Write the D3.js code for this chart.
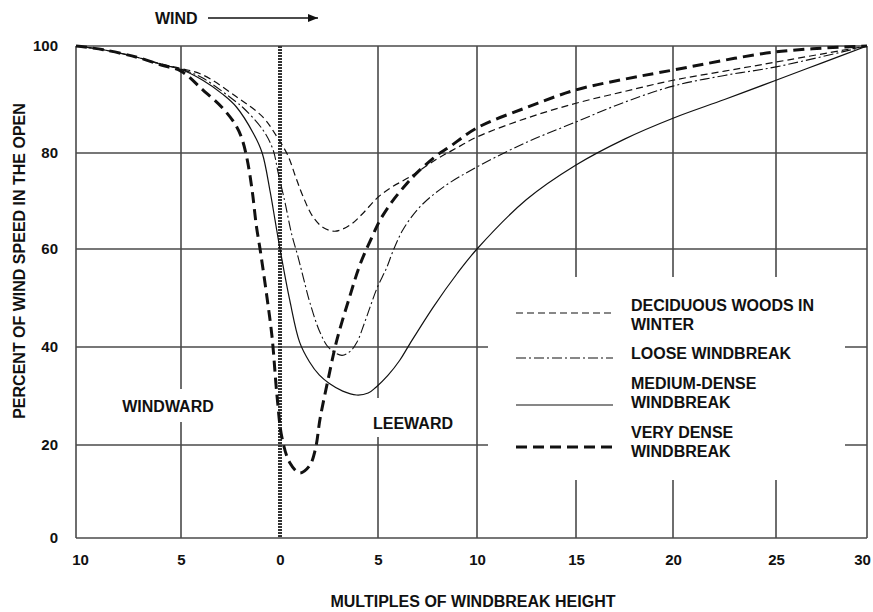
<!DOCTYPE html>
<html>
<head>
<meta charset="utf-8">
<script src="https://cdn.jsdelivr.net/npm/d3@7"></script>
<style>
  body { margin: 0; background: #fff; }
  text { font-family: "Liberation Sans", Arial, sans-serif; font-weight: bold; fill: #111; }
</style>
</head>
<body>
<script>
// tick values
var xTicks = [-10, -5, 0, 5, 10, 15, 20, 25, 30];
var yTicks = [0, 20, 40, 60, 80, 100];

// series: [multiples of windbreak height, percent of open wind speed]
var deciduous = [[-10,100],[-8.7,99.3],[-7.1,97.9],[-5.9,96.6],[-5,95.8],[-3.9,94.6],[-2.2,90.5],
  [-0.86,86.7],[-0.15,83],[0.4,79.5],[0.8,75],[1.17,71],[1.68,66.7],[2.2,64.5],[2.8,63.7],
  [3.57,65],[4.2,67.3],[4.95,70.6],[5.7,72.9],[6.6,75],[8,78.8],[9,81],[10,83],[12.5,86.5],
  [15,89.3],[17.5,91.5],[20,93.6],[22.5,95.3],[25,97],[30,100]];
var loose = [[-10,100],[-8.7,99.3],[-7.1,97.9],[-5.9,96.5],[-5,95.7],[-3.9,94],[-2.2,89.5],
  [-1.9,88.6],[-0.86,84.3],[-0.35,80.6],[-0.1,76],[0.26,69.6],[0.6,63],[0.92,58.4],[1.2,54],
  [1.53,49],[2.04,43],[2.5,39.8],[3.16,38.3],[3.6,39.2],[3.93,41],[4.3,44.8],[4.6,48.2],
  [4.95,52],[5.45,56.3],[5.76,59.6],[6.26,64],[7.1,68.7],[8.3,72.9],[10,77.1],[12.5,82],
  [15,85.8],[17.5,89.5],[20,92.5],[22.5,94.5],[25,96.1],[30,100]];
var medium = [[-10,100],[-8.7,99.3],[-7.1,97.9],[-5.9,96.5],[-5,95.6],[-3.9,93.6],[-2.9,91],
  [-2.2,88.6],[-1.35,83.7],[-0.9,80],[-0.5,72],[-0.25,66],[0,60],[0.5,49.5],[1,41],
  [1.5,37],[2,34.3],[2.5,32.6],[3.2,31],[3.9,30.2],[4.5,30.6],[4.9,31.8],[5.5,34.2],
  [6.1,37.3],[6.6,40.6],[7.8,48.2],[9,55],[10,60],[12.5,70.3],[15,77.5],[17.5,82.6],
  [20,86.5],[22.5,90],[25,93.6],[27.5,96.8],[30,100]];
var veryDense = [[-10,100],[-8.7,99.3],[-7.1,97.9],[-5.9,96.4],[-5,95.3],[-3.9,91.8],[-2.9,88.4],
  [-2.2,85],[-1.9,82.4],[-1.65,78.5],[-1.4,72],[-1.2,65],[-1,59.8],[-0.66,50.2],[-0.4,42],
  [-0.15,30],[0.1,21.5],[0.5,16.2],[1,14],[1.5,15.5],[1.8,19],[2.05,25.5],[2.45,33.3],
  [2.9,41.4],[3.55,50.2],[4.1,57],[4.75,63],[5.1,66],[5.7,69.8],[6.47,73.7],[7,76],[8,79.6],
  [8.6,81.1],[10,84.7],[12.5,88.5],[15,91.8],[17.5,93.8],[20,95.5],[25,98.9],[30,100]];

var seriesLabels = [["DECIDUOUS WOODS IN", "WINTER"], ["LOOSE WINDBREAK"],
  ["MEDIUM-DENSE", "WINDBREAK"], ["VERY DENSE", "WINDBREAK"]];

var width = 873, height = 612;

var svg = d3.select("body").append("svg")
    .attr("width", width)
    .attr("height", height);

// scanned grid is slightly uneven, so map each tick to where it sits
var x = d3.scaleLinear().domain(xTicks).range([76, 181, 280, 378, 477, 576, 673, 776, 867]);
var y = d3.scaleLinear().domain(yTicks).range([538, 445, 347, 249, 153, 46]);

var gridColor = "#4a4a4a";

// horizontal grid lines
svg.append("g").selectAll("line")
    .data(yTicks)
    .enter().append("line")
    .attr("x1", x(-10)).attr("x2", x(30))
    .attr("y1", function(d) { return y(d); })
    .attr("y2", function(d) { return y(d); })
    .attr("stroke", gridColor)
    .attr("stroke-width", 1.6);

// vertical grid lines (0 drawn separately)
svg.append("g").selectAll("line")
    .data(xTicks.filter(function(d) { return d !== 0; }))
    .enter().append("line")
    .attr("x1", function(d) { return x(d); })
    .attr("x2", function(d) { return x(d); })
    .attr("y1", y(100)).attr("y2", y(0))
    .attr("stroke", gridColor)
    .attr("stroke-width", 1.6);

// the windbreak itself
svg.append("line")
    .attr("x1", x(0)).attr("x2", x(0))
    .attr("y1", y(100)).attr("y2", y(0))
    .attr("stroke", "#333")
    .attr("stroke-width", 4)
    .attr("stroke-dasharray", "2,1");

// white patches behind the legend and area labels
svg.append("rect").attr("x", 488).attr("y", 277).attr("width", 357).attr("height", 203).attr("fill", "#fff");
svg.append("rect").attr("x", 116).attr("y", 389).attr("width", 104).attr("height", 33).attr("fill", "#fff");
svg.append("rect").attr("x", 368).attr("y", 398).attr("width", 90).attr("height", 39).attr("fill", "#fff");

// curves
var line = d3.line()
    .x(function(d) { return x(d[0]); })
    .y(function(d) { return y(d[1]); })
    .curve(d3.curveCatmullRom.alpha(0.5));

var styles = [
    { data: deciduous, width: 1.2, dash: "7,4" },
    { data: loose, width: 1.1, dash: "10,3,2,3" },
    { data: medium, width: 1.2, dash: null },
    { data: veryDense, width: 3, dash: "11,6" }
];

svg.append("g").selectAll("path")
    .data(styles)
    .enter().append("path")
    .attr("d", function(d) { return line(d.data); })
    .attr("fill", "none")
    .attr("stroke", "#111")
    .attr("stroke-width", function(d) { return d.width; })
    .attr("stroke-dasharray", function(d) { return d.dash; });

// axes (labels only, grid is drawn above)
var xAxis = svg.append("g")
    .attr("transform", "translate(0," + y(0) + ")")
    .call(d3.axisBottom(x).tickValues(xTicks).tickSize(0).tickPadding(16)
        .tickFormat(function(d) { return Math.abs(d); }));
xAxis.select(".domain").remove();
xAxis.selectAll("text")
    .style("font-size", "15px").style("font-family", null)
    .attr("dx", function(d) { return d === 30 ? -5 : (d === -10 ? 4 : 0); });

var yAxis = svg.append("g")
    .attr("transform", "translate(" + x(-10) + ",0)")
    .call(d3.axisLeft(y).tickValues(yTicks).tickSize(0).tickPadding(18));
yAxis.select(".domain").remove();
yAxis.selectAll("text").style("font-size", "15px").style("font-family", null);

// titles
svg.append("text")
    .attr("transform", "translate(25,261) rotate(-90)")
    .attr("text-anchor", "middle")
    .style("font-size", "16px")
    .text("PERCENT OF WIND SPEED IN THE OPEN");

svg.append("text")
    .attr("x", 473).attr("y", 607)
    .attr("text-anchor", "middle")
    .style("font-size", "16px")
    .text("MULTIPLES OF WINDBREAK HEIGHT");

svg.append("text")
    .attr("x", 155).attr("y", 24)
    .style("font-size", "16px")
    .text("WIND");

svg.append("defs").append("marker")
    .attr("id", "arrow")
    .attr("viewBox", "0 0 10 10")
    .attr("refX", 10).attr("refY", 5)
    .attr("markerWidth", 10).attr("markerHeight", 10)
    .attr("markerUnits", "userSpaceOnUse")
    .attr("orient", "auto")
    .append("path")
    .attr("d", "M0,1 L10,5 L0,9 Z")
    .attr("fill", "#111");

svg.append("line")
    .attr("x1", 208).attr("x2", 318)
    .attr("y1", 18).attr("y2", 18)
    .attr("stroke", "#111")
    .attr("stroke-width", 1.4)
    .attr("marker-end", "url(#arrow)");

svg.append("text")
    .attr("x", 168).attr("y", 412)
    .attr("text-anchor", "middle")
    .style("font-size", "16px")
    .text("WINDWARD");

svg.append("text")
    .attr("x", 413).attr("y", 429)
    .attr("text-anchor", "middle")
    .style("font-size", "16px")
    .text("LEEWARD");

// legend
var legendLineY = [313, 358, 405, 447];
var legendTextY = [311, 359, 389, 438];

var legend = svg.append("g").selectAll("g")
    .data(styles)
    .enter().append("g");

legend.append("line")
    .attr("x1", 516).attr("x2", 613)
    .attr("y1", function(d, i) { return legendLineY[i]; })
    .attr("y2", function(d, i) { return legendLineY[i]; })
    .attr("stroke", "#111")
    .attr("stroke-width", function(d) { return d.width; })
    .attr("stroke-dasharray", function(d) { return d.dash; });

legend.append("text")
    .attr("x", 631)
    .attr("y", function(d, i) { return legendTextY[i]; })
    .style("font-size", "16px")
    .selectAll("tspan")
    .data(function(d, i) { return seriesLabels[i]; })
    .enter().append("tspan")
    .attr("x", 631)
    .attr("dy", function(d, j) { return j === 0 ? 0 : 19; })
    .text(function(d) { return d; });
</script>
</body>
</html>
